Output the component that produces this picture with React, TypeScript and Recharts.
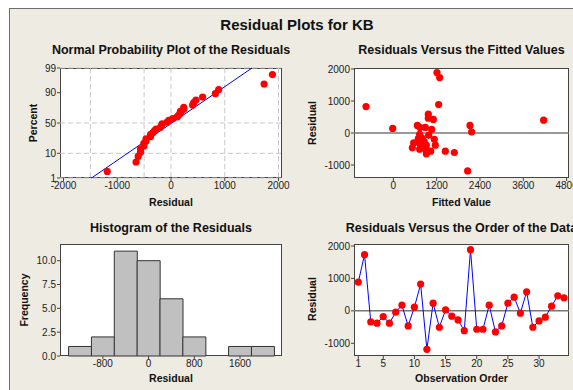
import {
  ComposedChart, ScatterChart, Scatter, Line, Bar, XAxis, YAxis, CartesianGrid, ReferenceLine,
} from 'recharts';

// residuals by observation order
const RESIDUALS = [887, 1732, -340, -381, -175, -381, -41, 175, -464, 113, 825, -1186, 237, -505, 31, -165, -278, -610, 1887, -567, -567, 175, -650, -464, 237, 423, -72, 588, -505, -309, -196, 144, 464, 402];
// fitted values, same order
const FITTED = [1255, 1283, 738, 914, 692, 1163, 729, 738, 526, 1062, -757, 2058, 2123, 905, 2169, 803, 860, 1689, 1209, 1034, 1440, 886, 914, 822, 665, 1108, 978, 969, 729, 563, 1135, -18, 969, 4163];

const HIST_BINS = [-1200, -800, -400, 0, 400, 800, 1200, 1600, 2000];
const HIST_COUNTS = [1, 2, 11, 10, 6, 2, 0, 1, 1];

const PCT_TICKS = [1, 10, 50, 90, 99];
const NPP_X_TICKS = [-2000, -1000, 0, 1000, 2000];
const NPP_GRID_X = [-2000, -1500, -1000, -500, 0, 500, 1000, 1500, 2000];
const FIT_X_TICKS = [0, 1200, 2400, 3600, 4800];
const RES_Y_TICKS = [-1000, 0, 1000, 2000];
const HIST_X_TICKS = [-800, 0, 800, 1600];
const HIST_Y_TICKS = [0, 2.5, 5, 7.5, 10];
const ORDER_X_TICKS = [1, 5, 10, 15, 20, 25, 30];

// inverse normal cdf (Acklam)
function probit(p: number) {
  const a = [-39.69683028665376, 220.9460984245205, -275.9285104469687, 138.357751867269, -30.66479806614716, 2.506628277459239];
  const b = [-54.47609879822406, 161.5858368580409, -155.6989798598866, 66.80131188771972, -13.28068155288572];
  const c = [-0.007784894002430293, -0.3223964580411365, -2.400758277161838, -2.549732539343734, 4.374664141464968, 2.938163982698783];
  const d = [0.007784695709041462, 0.3224671290700398, 2.445134137142996, 3.754408661907416];
  const pl = 0.02425;
  if (p < pl) {
    const q = Math.sqrt(-2 * Math.log(p));
    return (((((c[0] * q + c[1]) * q + c[2]) * q + c[3]) * q + c[4]) * q + c[5]) / ((((d[0] * q + d[1]) * q + d[2]) * q + d[3]) * q + 1);
  }
  if (p > 1 - pl) {
    const q = Math.sqrt(-2 * Math.log(1 - p));
    return -(((((c[0] * q + c[1]) * q + c[2]) * q + c[3]) * q + c[4]) * q + c[5]) / ((((d[0] * q + d[1]) * q + d[2]) * q + d[3]) * q + 1);
  }
  const q = p - 0.5;
  const r = q * q;
  return (((((a[0] * r + a[1]) * r + a[2]) * r + a[3]) * r + a[4]) * r + a[5]) * q / (((((b[0] * r + b[1]) * r + b[2]) * r + b[3]) * r + b[4]) * r + 1);
}

const n = RESIDUALS.length;
const sorted = [...RESIDUALS].sort((x, y) => x - y);
// median ranks, like minitab
const nppData = sorted.map((r, i) => ({ x: r, z: probit((i + 1 - 0.3) / (n + 0.4)) }));
const mean = RESIDUALS.reduce((s, v) => s + v, 0) / n;
const sd = Math.sqrt(RESIDUALS.reduce((s, v) => s + (v - mean) ** 2, 0) / (n - 1));
const zLo = probit(0.01);
const zHi = probit(0.99);
const fitLine = [{ x: mean + zLo * sd, z: zLo }, { x: mean + zHi * sd, z: zHi }];
const zTicks = PCT_TICKS.map((p) => probit(p / 100));

const fittedData = FITTED.map((f, i) => ({ fitted: f, resid: RESIDUALS[i] }));
const histData = HIST_BINS.map((b, i) => ({ bin: b, count: HIST_COUNTS[i] }));
const orderData = RESIDUALS.map((r, i) => ({ obs: i + 1, resid: r }));

const FONT = "'Liberation Sans', Arial, sans-serif";
const tick = { fontSize: 10, fill: '#222', fontFamily: FONT };
const tickLine = { stroke: '#444' };

const BOX1 = { left: 60, top: 68, w: 222, h: 110 };
const BOX2 = { left: 354, top: 68, w: 215, h: 110 };
const BOX3 = { left: 60, top: 244, w: 222, h: 112 };
const BOX4 = { left: 354, top: 244, w: 215, h: 112 };

const RedDot = (props: any) => <circle cx={props.cx} cy={props.cy} r={3.6} fill="#ff0000" />;

type Box = { left: number; top: number; w: number; h: number };

const Panel = ({ box, children }: { box: Box; children: (w: number, h: number) => any }) => (
  <>
    <div style={{
      position: 'absolute', left: box.left, top: box.top, width: box.w, height: box.h,
      background: '#fff', border: '1px solid #444', boxSizing: 'border-box',
    }} />
    <div style={{ position: 'absolute', left: box.left - 45, top: box.top - 5 }}>
      {children(box.w + 65, box.h + 30)}
    </div>
  </>
);

const margin = { top: 5, right: 20, bottom: 0, left: 0 };

const Text = ({ x, y, w = 300, size, bold = true, children }: any) => (
  <div style={{
    position: 'absolute', left: x - w / 2, top: y, width: w, textAlign: 'center',
    fontSize: size, fontWeight: bold ? 'bold' : 'normal', lineHeight: '16px', color: '#111', whiteSpace: 'nowrap',
  }}>{children}</div>
);

const VText = ({ x, y, children }: any) => (
  <div style={{
    position: 'absolute', left: x - 50, top: y - 7, width: 100, height: 14, lineHeight: '14px',
    textAlign: 'center', fontSize: 10.5, fontWeight: 'bold', color: '#111', transform: 'rotate(-90deg)',
  }}>{children}</div>
);

export default function App() {
  return (
    <div style={{ position: 'absolute', left: 0, top: 0, width: 573, height: 390, overflow: 'hidden', background: '#fff', fontFamily: FONT }}>
      <div style={{ position: 'absolute', left: 9, top: 8, width: 700, height: 500, background: '#EEEBE2', border: '1px solid #6e6e6e' }} />

      <Text x={297} y={17} size={15}>Residual Plots for KB</Text>
      <Text x={171} y={42} size={12.5}>Normal Probability Plot of the Residuals</Text>
      <Text x={461.5} y={42} size={12.5}>Residuals Versus the Fitted Values</Text>
      <Text x={171} y={220} size={12.5}>Histogram of the Residuals</Text>
      <Text x={461.5} y={220} size={12.5}>Residuals Versus the Order of the Data</Text>

      <Text x={171} y={194} size={10.5}>Residual</Text>
      <Text x={461.5} y={194} size={10.5}>Fitted Value</Text>
      <Text x={171} y={370} size={10.5}>Residual</Text>
      <Text x={461.5} y={370} size={10.5}>Observation Order</Text>
      <VText x={33} y={123}>Percent</VText>
      <VText x={312} y={123}>Residual</VText>
      <VText x={24} y={300}>Frequency</VText>
      <VText x={312} y={299}>Residual</VText>

      <Panel box={BOX1}>
        {(w, h) => (
          <ScatterChart width={w} height={h} margin={margin}>
            <CartesianGrid stroke="#c8c8c8" strokeDasharray="5 3" verticalValues={NPP_GRID_X} horizontalValues={zTicks} />
            <XAxis type="number" dataKey="x" domain={[-2065, 2065]} ticks={NPP_X_TICKS} height={25}
              axisLine={false} tickLine={tickLine} tickSize={3} tickMargin={1} tick={tick} />
            <YAxis type="number" dataKey="z" domain={[zLo, zHi]} ticks={zTicks} width={45}
              tickFormatter={(v: number) => String(PCT_TICKS[zTicks.findIndex((t) => Math.abs(t - v) < 1e-6)])}
              axisLine={false} tickLine={tickLine} tickSize={3} tickMargin={1} tick={tick} />
            <Scatter data={fitLine} line={{ stroke: '#0000ff', strokeWidth: 1 }} shape={() => <g />} isAnimationActive={false} />
            <Scatter data={nppData} shape={RedDot} isAnimationActive={false} />
          </ScatterChart>
        )}
      </Panel>

      <Panel box={BOX2}>
        {(w, h) => (
          <ScatterChart width={w} height={h} margin={margin}>
            <XAxis type="number" dataKey="fitted" domain={[-1090, 4866]} ticks={FIT_X_TICKS} height={25}
              axisLine={false} tickLine={tickLine} tickSize={3} tickMargin={1} tick={tick} />
            <YAxis type="number" dataKey="resid" domain={[-1406, 2031]} ticks={RES_Y_TICKS} width={45}
              axisLine={false} tickLine={tickLine} tickSize={3} tickMargin={1} tick={tick} />
            <ReferenceLine y={0} stroke="#777" strokeWidth={1.5} />
            <Scatter data={fittedData} shape={RedDot} isAnimationActive={false} />
          </ScatterChart>
        )}
      </Panel>

      <Panel box={BOX3}>
        {(w, h) => (
          <ComposedChart width={w} height={h} margin={margin} data={histData} barCategoryGap={0} barGap={0}>
            <XAxis type="number" dataKey="bin" domain={[-1550, 2335]} ticks={HIST_X_TICKS} height={25}
              axisLine={false} tickLine={tickLine} tickSize={3} tickMargin={1} tick={tick} />
            <YAxis type="number" domain={[0, 11.75]} ticks={HIST_Y_TICKS} width={45}
              tickFormatter={(v: number) => v.toFixed(1)}
              axisLine={false} tickLine={tickLine} tickSize={3} tickMargin={1} tick={tick} />
            <Bar dataKey="count" fill="#c0c0c0" stroke="#333" strokeWidth={1} isAnimationActive={false} />
          </ComposedChart>
        )}
      </Panel>

      <Panel box={BOX4}>
        {(w, h) => (
          <ComposedChart width={w} height={h} margin={margin} data={orderData}>
            <XAxis type="number" dataKey="obs" domain={[0.31, 34.8]} ticks={ORDER_X_TICKS} height={25}
              axisLine={false} tickLine={tickLine} tickSize={3} tickMargin={1} tick={tick} />
            <YAxis type="number" domain={[-1392, 2062]} ticks={RES_Y_TICKS} width={45}
              axisLine={false} tickLine={tickLine} tickSize={3} tickMargin={1} tick={tick} />
            <ReferenceLine y={0} stroke="#777" strokeWidth={1.5} />
            <Line dataKey="resid" stroke="#0000ff" strokeWidth={1}
              dot={{ r: 3.6, fill: '#ff0000', stroke: 'none', strokeWidth: 0 }} isAnimationActive={false} />
          </ComposedChart>
        )}
      </Panel>
    </div>
  );
}
